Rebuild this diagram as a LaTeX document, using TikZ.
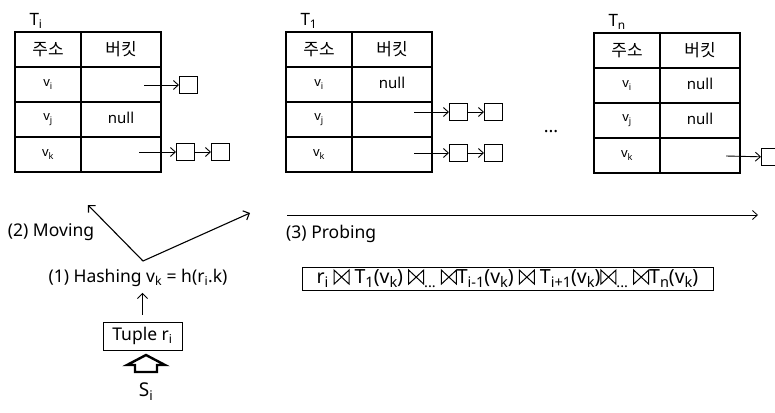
\documentclass[tikz,border=0pt]{standalone}
\usepackage{fontspec}
\setmainfont{Noto Sans}
\newfontfamily\krfont{Noto Sans CJK KR}
\usetikzlibrary{arrows.meta}

% one hash table: name, left x, top y, caption, buckets of the rows v_i, v_j, v_k
\newcommand\hashtable[7]{%
  \node[anchor=base west, font=\fontsize{17}{19}\selectfont] (#1-cap) at ({#2+11},{#3-6}) {#4};
  \node[keycell, anchor=north west] (#1-h1) at (#2,#3) {\krfont\fontsize{17}{19}\selectfont 주소};
  \node[bkcell, anchor=north west] (#1-h2) at (#1-h1.north east) {\krfont\fontsize{17}{19}\selectfont 버킷};
  \node[keycell, anchor=north west] (#1-k1) at (#1-h1.south west) {v\textsubscript{i}};
  \node[bkcell, anchor=north west] (#1-b1) at (#1-k1.north east) {#5};
  \node[keycell, anchor=north west] (#1-k2) at (#1-k1.south west) {v\textsubscript{j}};
  \node[bkcell, anchor=north west] (#1-b2) at (#1-k2.north east) {#6};
  \node[keycell, anchor=north west] (#1-k3) at (#1-k2.south west) {v\textsubscript{k}};
  \node[bkcell, anchor=north west] (#1-b3) at (#1-k3.north east) {#7};
}
\newcommand\nullval{\raisebox{3pt}{null}}
% natural-join sign
\newcommand\njoin{\tikz[baseline=0pt, x=1pt, y=1pt]
  \draw[line width=1pt, line join=miter] (0,-0.5) -- (0,13.5) -- (15,-0.5) -- (15,13.5) -- cycle;}
% larger lowered index for the join expression
\newcommand\lo[1]{\raisebox{-0.35ex}{\fontsize{14.5}{15}\selectfont #1}}

\begin{document}
\begin{tikzpicture}[x=1pt, y=-1pt,
  cell/.style={draw, line width=1.2pt, minimum height=35pt, inner sep=0pt, outer sep=0pt},
  keycell/.style={cell, minimum width=66pt, font=\fontsize{13}{15}\selectfont},
  bkcell/.style={cell, minimum width=80pt, font=\fontsize{15}{17}\selectfont},
  bucket/.style={draw, line width=0.9pt, minimum width=18pt, minimum height=17pt, inner sep=0pt, outer sep=0pt},
  ptr/.style={-{Straight Barb[length=5pt, width=9pt]}, line width=0.9pt},
  flow/.style={-{Straight Barb[length=5pt, width=10pt]}, line width=1.1pt},
  label/.style={font=\fontsize{17.5}{20}\selectfont, inner sep=1pt}
]
\useasboundingbox (0,0) rectangle (775,412);

% tables
\hashtable{Ti}{15}{32}{T\textsubscript{i}}{}{\nullval}{}
\hashtable{Tone}{286}{32}{T\textsubscript{1}}{\nullval}{}{}
\hashtable{Tn}{594}{33}{T\textsubscript{n}}{\nullval}{\nullval}{}

\node[font=\fontsize{18}{20}\selectfont\bfseries] (dots) at (551,132) {...};

% bucket chains of T_i
\coordinate (Ti-s1) at (144,85);
\node[bucket] (Ti-c1) at (188,85) {};
\draw[ptr] (Ti-s1) -- (Ti-c1);
\coordinate (Ti-s3) at (139,152);
\node[bucket] (Ti-c3a) at (185,152) {};
\node[bucket] (Ti-c3b) at (220,152) {};
\draw[ptr] (Ti-s3) -- (Ti-c3a);
\draw[ptr] (Ti-c3a) -- (Ti-c3b);

% bucket chains of T_1
\coordinate (Tone-s2) at (414,112);
\node[bucket] (Tone-c2a) at (458,112) {};
\node[bucket] (Tone-c2b) at (493,112) {};
\draw[ptr] (Tone-s2) -- (Tone-c2a);
\draw[ptr] (Tone-c2a) -- (Tone-c2b);
\coordinate (Tone-s3) at (414,153);
\node[bucket] (Tone-c3a) at (458,153) {};
\node[bucket] (Tone-c3b) at (493,153) {};
\draw[ptr] (Tone-s3) -- (Tone-c3a);
\draw[ptr] (Tone-c3a) -- (Tone-c3b);

% bucket chain of T_n
\coordinate (Tn-s3) at (726,156);
\node[bucket] (Tn-c3) at (770,157) {};
\draw[ptr] (Tn-s3) -- (Tn-c3);

% probing direction
\coordinate (probe-a) at (287,215);
\coordinate (probe-b) at (758,215);
\draw[ptr, line width=0.8pt] (probe-a) -- (probe-b);
\node[label, anchor=west] (probing) at (285,234) {(3) Probing};
\node[draw, line width=0.9pt, minimum width=411pt, minimum height=23pt, inner sep=0pt,
      font=\fontsize{19.5}{21}\selectfont] (joinexpr) at (507.5,278.5)
  {r\lo{i} \njoin{} T\lo{1}(v\lo{k}) \njoin\lo{...} \njoin{}T\lo{i-1}(v\lo{k}) \njoin{} T\lo{i+1}(v\lo{k})\njoin\lo{...} \njoin{}T\lo{n}(v\lo{k})};

% hashing and moving
\node[label] (moving) at (51,232) {(2) Moving};
\node[label] (hash) at (138,278) {(1) Hashing v\textsubscript{k} = h(r\textsubscript{i}.k)};
\coordinate (fork) at (143,261);
\coordinate (move-end) at (88,205);
\coordinate (probe-end) at (250,213);
\draw[flow] (fork) -- (move-end);
\draw[flow] (fork) -- (probe-end);

\node[draw, line width=0.9pt, minimum width=79pt, minimum height=28pt, inner sep=0pt, label] (tuple) at (142.5,336) {Tuple r\textsubscript{i}};
\draw[flow, line width=0.9pt, shorten <=7pt, shorten >=5pt] (tuple.north) -- (tuple.north |- hash.south);

% input stream
\draw[line width=2.4pt, line join=miter] (146,355) -- (165,365) -- (157,365) -- (157,372)
  -- (135,372) -- (135,365) -- (127,365) -- cycle;
\node[font=\fontsize{19}{21}\selectfont] (stream) at (146,392) {S\textsubscript{i}};
\end{tikzpicture}
\end{document}
